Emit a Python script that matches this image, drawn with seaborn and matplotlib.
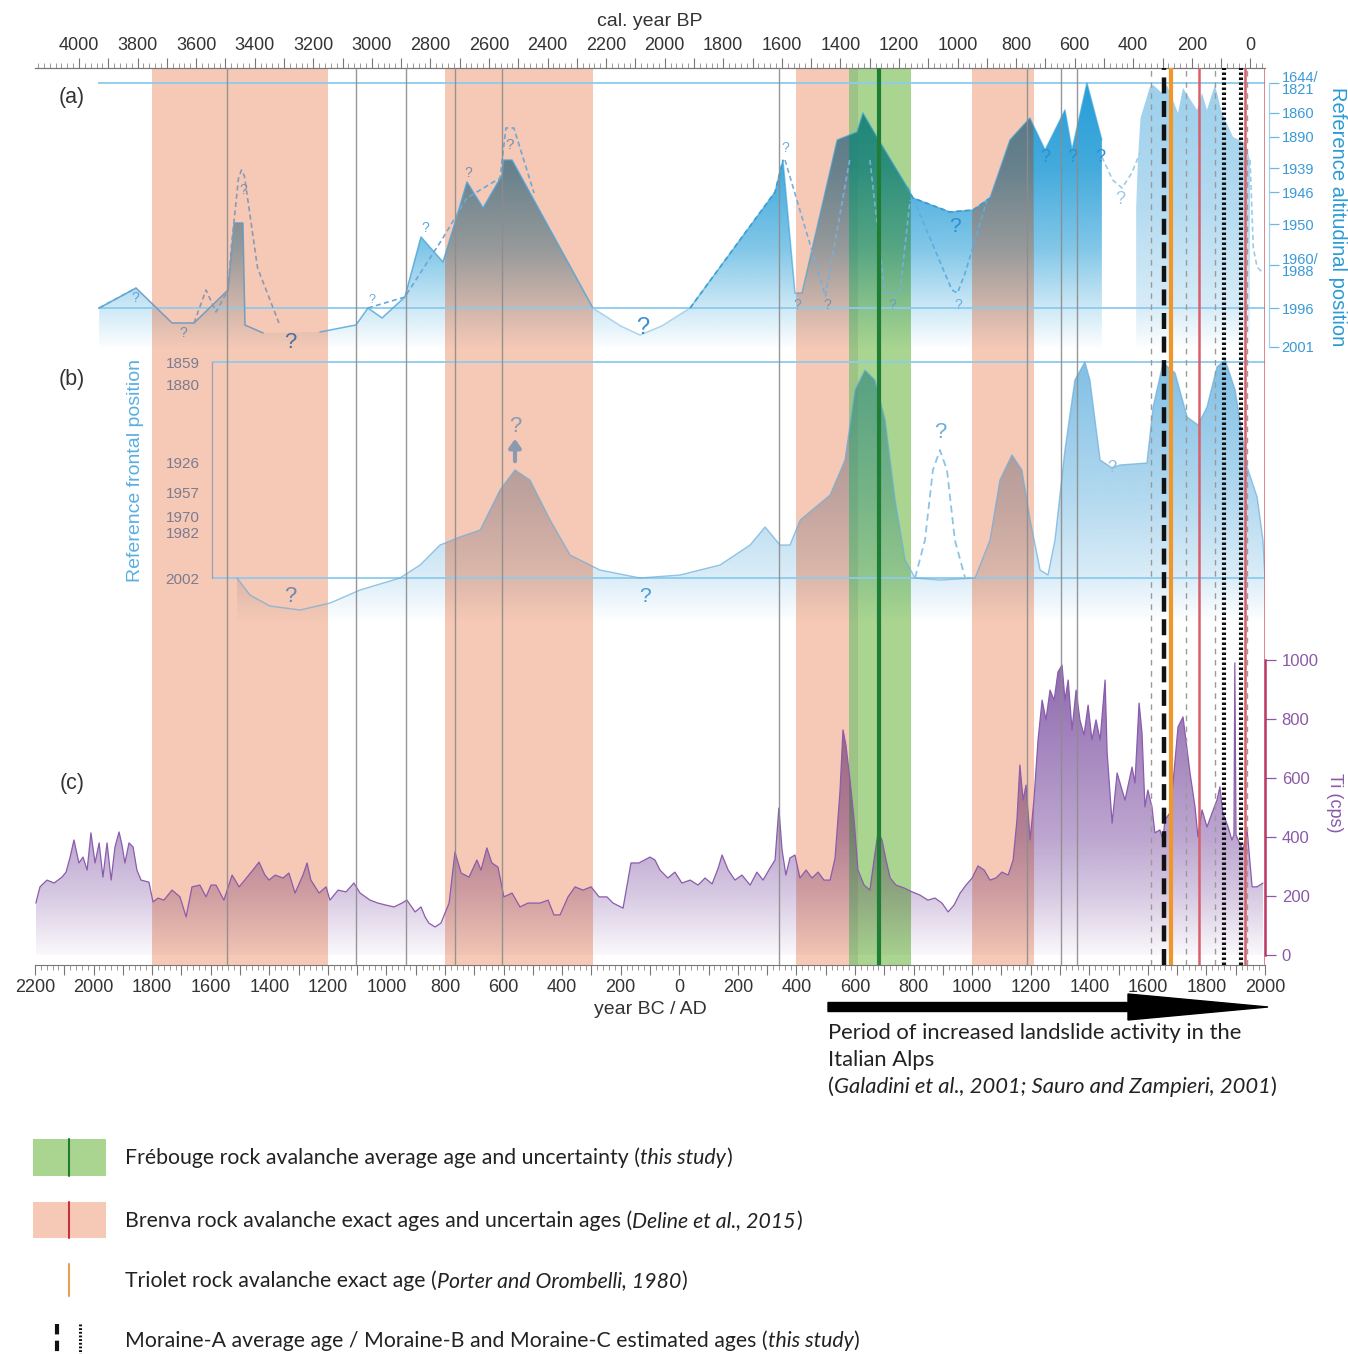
import numpy as np
import matplotlib
matplotlib.use("Agg")
import matplotlib.pyplot as plt
import seaborn as sns
from matplotlib.path import Path
from matplotlib.patches import PathPatch, Rectangle, FancyArrow
from matplotlib.colors import to_rgb

# ======================= DATA =======================
# periods / events (year BC/AD, negative = BC)
BRENVA_BANDS = [(-1800, -1200), (-800, -295), (400, 610), (1000, 1210)]
FREBOUGE_BAND = (580, 790)
FREBOUGE_AGE = 682
GRAY_LINES = [-1544, -1104, -933, -766, -605, 341, 1187, 1303, 1358]
GRAY_DASHED = [1611, 1730, 1829, 1939]
BRENVA_EXACT = [1775, 1932, 2000]
TRIOLET_AGE = 1679
MORAINE_A = 1655
MORAINE_BC = [1860, 1918]

# (a) reference altitudinal position (relative position units)
A_TICK_POS = [225, 195, 171, 140, 116, 84, 43, 0, -39]
A_TICK_LAB = ["1644/\n1821", "1860", "1890", "1939", "1946", "1950", "1960/\n1988", "1996", "2001"]
A_S1_YEAR = [-1981, -1855, -1732, -1657, -1541, -1520, -1490, -1483, -1421]
A_S1_POS = [0, 20, -15, -15, 18, 85, 85, -17, -25]
A_S2_YEAR = [-1227, -1104, -1063, -1015, -937, -882, -807, -766, -725, -670, -605, -599, -571, -295]
A_S2_POS = [-24, -17, 0, -10, 11, 71, 46, 85, 126, 100, 133, 148, 148, 0]
A_S3_YEAR = [-295, -200, -134, -60, 37]
A_S3_POS = [0, -18, -27, -18, 0]
A_S4_YEAR = [37, 327, 354, 395, 419, 539, 607, 627, 675, 778, 798, 924, 1003, 1061, 1129,
             1197, 1249, 1317, 1341, 1392, 1443]
A_S4_POS = [0, 116, 148, 15, 15, 168, 176, 195, 171, 121, 110, 96, 98, 110, 168,
            190, 158, 198, 158, 225, 168]
A_S5_YEAR = [1560, 1566, 1575, 1607, 1618, 1648, 1665, 1703, 1720, 1768, 1785, 1802, 1829,
             1853, 1891, 1932, 1949]
A_S5_POS = [100, 148, 190, 221, 223, 215, 223, 195, 220, 198, 215, 198, 223, 195, 171, 165, 148]
# dashed (uncertain) reconstructions
A_D1_YEAR, A_D1_POS = [-1981, -1855], [0, 20]
A_D2_YEAR, A_D2_POS = [-1657, -1616, -1582, -1541], [-15, 18, -4, 18]
A_D3_YEAR, A_D3_POS = [-1541, -1530, -1505, -1495, -1485, -1440, -1367], [18, 60, 130, 138, 132, 40, -15]
A_D4_YEAR, A_D4_POS = [-1063, -937, -807, -725, -612, -592, -565, -496], [0, 11, 70, 110, 130, 180, 180, 115]
A_D5_YEAR, A_D5_POS = [37, 327, 354], [0, 116, 148]
A_D6_YEAR, A_D6_POS = [361, 499, 583], [148, 12, 150]
A_D7_YEAR, A_D7_POS = [651, 702, 753, 788], [148, 15, 15, 108]
A_D8_YEAR, A_D8_POS = [798, 931, 950, 976, 1051], [110, 18, 15, 35, 108]
A_D9_YEAR, A_D9_POS = [778, 798, 924, 1003, 1061], [121, 110, 96, 98, 110]
A_D10_YEAR, A_D10_POS = [1443, 1480, 1512, 1545, 1573], [151, 128, 120, 135, 155]
A_D11_YEAR, A_D11_POS = [1949, 1960, 1973, 1993], [148, 60, 41, 35]

# (b) reference frontal position
B_TICK_POS = [216, 194, 115, 86, 61, 46, 0]
B_TICK_LAB = ["1859", "1880", "1926", "1957", "1970", "1982", "2002"]
B_YEAR = [-1510, -1466, -1398, -1295, -1192, -1090, -954, -885, -817, -749, -680, -612, -561,
          -510, -441, -373, -271, -134, 3, 139, 242, 293, 344, 378, 413, 515, 566, 600, 634,
          668, 703, 737, 771, 805, 890, 1010, 1061, 1095, 1136, 1170, 1198, 1232, 1259, 1283,
          1317, 1351, 1385, 1402, 1437, 1478, 1505, 1597, 1618, 1652, 1693, 1734, 1771, 1802,
          1836, 1864, 1898, 1939, 1973, 1993, 2000]
B_POS = [0, -17, -28, -32, -25, -12, 0, 13, 33, 41, 48, 88, 108, 98, 58, 23, 8, 0, 3, 13, 33,
         51, 33, 33, 58, 83, 118, 188, 208, 198, 158, 78, 18, 0, -2, 0, 38, 98, 123, 108, 58,
         8, 3, 38, 128, 198, 216, 198, 118, 110, 113, 115, 171, 215, 205, 161, 153, 171, 211,
         218, 188, 111, 81, 38, 0]
B_DASH_YEAR = [805, 839, 866, 890, 914, 941, 976]
B_DASH_POS = [0, 38, 108, 128, 108, 38, 0]

# (c) Ti (cps)
C_YEAR = [-2197, -2183, -2159, -2135, -2108, -2094, -2080, -2067, -2050, -2036,
          -2022, -2009, -1995, -1981, -1968, -1954, -1940, -1927, -1913, -1903,
          -1893, -1879, -1865, -1852, -1838, -1811, -1797, -1780, -1760, -1732,
          -1705, -1684, -1664, -1637, -1616, -1599, -1582, -1555, -1527, -1503,
          -1476, -1456, -1435, -1415, -1401, -1380, -1353, -1333, -1312, -1285,
          -1271, -1258, -1230, -1206, -1193, -1165, -1138, -1111, -1090, -1056,
          -1029, -1001, -974, -947, -930, -902, -882, -868, -855, -834,
          -814, -800, -786, -766, -745, -718, -691, -677, -657, -640,
          -619, -599, -571, -544, -517, -476, -448, -428, -407, -380,
          -356, -329, -301, -274, -247, -226, -192, -165, -138, -100,
          -83, -66, -39, -15, 9, 37, 64, 88, 112, 133,
          146, 167, 190, 214, 242, 265, 286, 310, 327, 340,
          351, 364, 378, 395, 412, 433, 453, 474, 494, 515,
          532, 549, 559, 569, 583, 597, 610, 631, 651, 665,
          679, 692, 706, 720, 740, 768, 795, 822, 849, 873,
          897, 918, 938, 959, 979, 1000, 1020, 1041, 1061, 1081,
          1102, 1123, 1140, 1153, 1163, 1174, 1184, 1198, 1211, 1225,
          1239, 1252, 1266, 1280, 1293, 1307, 1317, 1328, 1341, 1355,
          1368, 1382, 1396, 1409, 1423, 1437, 1454, 1461, 1478, 1495,
          1505, 1522, 1546, 1556, 1570, 1580, 1590, 1600, 1614, 1624,
          1641, 1652, 1658, 1675, 1686, 1703, 1720, 1734, 1744, 1761,
          1771, 1785, 1802, 1819, 1836, 1846, 1856, 1874, 1887, 1894,
          1897, 1901, 1908, 1925, 1939, 1956, 1973, 1993]
C_TI = [176, 231, 254, 244, 264, 281, 332, 390, 312, 332,
        288, 414, 312, 380, 264, 380, 254, 366, 417, 373,
        312, 380, 366, 288, 254, 247, 180, 193, 186, 220,
        197, 129, 231, 237, 197, 237, 237, 186, 271, 231,
        264, 288, 315, 271, 254, 271, 261, 278, 210, 271,
        312, 254, 210, 231, 186, 220, 214, 244, 210, 186,
        176, 169, 163, 176, 186, 146, 163, 129, 108, 95,
        108, 142, 176, 349, 278, 264, 322, 288, 363, 312,
        298, 197, 210, 163, 176, 176, 186, 136, 136, 197,
        231, 220, 231, 197, 197, 176, 159, 312, 312, 332,
        322, 288, 261, 281, 244, 254, 237, 261, 241, 295,
        339, 288, 254, 271, 237, 281, 254, 295, 322, 498,
        356, 271, 329, 339, 261, 288, 261, 281, 254, 254,
        329, 559, 763, 712, 593, 458, 288, 237, 220, 322,
        417, 390, 322, 261, 237, 227, 214, 203, 186, 193,
        176, 146, 169, 210, 237, 261, 302, 288, 254, 261,
        281, 271, 322, 458, 644, 525, 576, 390, 525, 729,
        864, 797, 898, 864, 959, 983, 864, 932, 763, 898,
        797, 746, 847, 729, 797, 729, 932, 685, 447, 617,
        583, 525, 637, 583, 854, 753, 502, 559, 502, 414,
        424, 390, 458, 481, 583, 773, 807, 695, 617, 502,
        400, 492, 434, 481, 525, 570, 481, 434, 390, 407,
        990, 407, 390, 356, 424, 231, 231, 244]
C_TICKS = [0, 200, 400, 600, 800, 1000]

BOTTOM_TICKS = list(range(-2200, 2001, 200))
TOP_TICKS = list(range(0, 4001, 200))

# ======================= STYLE =======================
sns.set_style("white")
plt.rcParams["font.family"] = ["Liberation Sans", "DejaVu Sans"]
TXT_FONT = ["Lato", "DejaVu Sans"]

SALMON = "#f6c9b6"
GREEN = "#a9d590"
OVERLAP = "#9dc386"
BLUE_A = "#1a98d5"
BLUE_B = "#4aa4da"
PURPLE = "#7a4ca0"
LINE_BLUE = "#8ccbee"

W, H = 1348, 1354
fig = plt.figure(figsize=(W / 100, H / 100), dpi=100)
PX0, PX1, PY0, PY1 = 35, 1265, 68, 965


def box(x0, y0, x1, y1):
    return [x0 / W, 1 - y1 / H, (x1 - x0) / W, (y1 - y0) / H]


XLIM = (-2200, 2000)
ax_bg = fig.add_axes(box(PX0, PY0, PX1, PY1), label="bg", zorder=0)
ax_a = fig.add_axes(box(PX0, PY0, PX1, PY1), label="a", zorder=1)
ax_b = fig.add_axes(box(PX0, PY0, PX1, PY1), label="b", zorder=2)
ax_c = fig.add_axes(box(PX0, PY0, PX1, PY1), label="c", zorder=3)
ax_ln = fig.add_axes(box(PX0, PY0, PX1, PY1), label="lines", zorder=4)
ax_ov = fig.add_axes([0, 0, 1, 1], label="overlay", zorder=5)
for ax in (ax_a, ax_b, ax_c, ax_ln, ax_ov):
    ax.patch.set_alpha(0)


def backdrop(xs):
    rgb = np.ones((len(xs), 3))
    salmon = np.zeros(len(xs), bool)
    for s, e in BRENVA_BANDS:
        m = (xs >= s) & (xs <= e)
        rgb[m] = to_rgb(SALMON)
        salmon |= m
    m = (xs >= FREBOUGE_BAND[0]) & (xs <= FREBOUGE_BAND[1])
    rgb[m] = to_rgb(GREEN)
    salmon &= ~m
    return rgb, salmon


def grad_fill(ax, xs, ys, base, color, ystops, astops, z, ncol=2400, nrow=300, band_col=None):
    xs = np.asarray(xs, float)
    ys = np.asarray(ys, float)
    verts = np.column_stack([np.r_[xs[0], xs, xs[-1]], np.r_[base, ys, base]])
    patch = PathPatch(Path(verts), fc="none", ec="none")
    ax.add_patch(patch)
    xg = np.linspace(xs.min(), xs.max(), ncol)
    y_hi = max(ys.max(), ystops[-1])
    yg = np.linspace(base, y_hi, nrow)
    alpha = np.interp(yg, ystops, astops)
    bd, salmon = backdrop(xg)
    col = np.array(to_rgb(color))[None, :] * bd
    if band_col is not None:
        col[salmon] = np.array(to_rgb(band_col))[None, :] * bd[salmon]
    img = np.empty((nrow, ncol, 4))
    img[..., :3] = col[None, :, :]
    img[..., 3] = alpha[:, None]
    im = ax.imshow(img, extent=[xg[0], xg[-1], base, y_hi], origin="lower",
                   aspect="auto", interpolation="bilinear", zorder=z)
    im.set_clip_path(patch)


# ----------------- background: bands & rulers -----------------
for s, e in BRENVA_BANDS:
    ax_bg.axvspan(s, e, color=SALMON, lw=0, zorder=0)
ax_bg.axvspan(*FREBOUGE_BAND, color=GREEN, lw=0, zorder=0.5)
for s, e in BRENVA_BANDS:
    lo, hi = max(s, FREBOUGE_BAND[0]), min(e, FREBOUGE_BAND[1])
    if lo < hi:
        ax_bg.axvspan(lo, hi, color=OVERLAP, lw=0, zorder=0.6)
ax_bg.set_xlim(*XLIM)
ax_bg.set_ylim(0, 1)
ax_bg.set_yticks([])
for sp in ("left", "right"):
    ax_bg.spines[sp].set_visible(False)
for sp in ("top", "bottom"):
    ax_bg.spines[sp].set_color("#777777")
    ax_bg.spines[sp].set_linewidth(0.8)
ax_bg.set_xticks(range(-2200, 2001, 100))
ax_bg.set_xticklabels([str(abs(v)) if v in BOTTOM_TICKS else "" for v in range(-2200, 2001, 100)])
ax_bg.set_xticks(range(-2200, 2001, 20), minor=True)
ax_bg.tick_params(axis="x", which="major", direction="out", length=7, width=0.8,
                  color="#777777", labelsize=13, labelcolor="#333333", pad=3)
ax_bg.tick_params(axis="x", which="minor", direction="out", length=3.5, width=0.6, color="#888888")
ax_bg.set_xlabel("year BC / AD", fontsize=14, color="#333333", labelpad=4)

ax_top = ax_bg.twiny()
ax_top.set_xlim(1950 - XLIM[0], 1950 - XLIM[1])
ax_top.set_xticks(range(0, 4001, 100))
ax_top.set_xticklabels([str(v) if v in TOP_TICKS else "" for v in range(0, 4001, 100)])
ax_top.set_xticks(range(-40, 4141, 20), minor=True)
ax_top.tick_params(axis="x", which="major", direction="out", length=7, width=0.8,
                   color="#777777", labelsize=13, labelcolor="#333333", pad=3)
ax_top.tick_params(axis="x", which="minor", direction="out", length=3.5, width=0.6, color="#888888")
ax_top.set_xlabel("cal. year BP", fontsize=14, color="#333333", labelpad=8)
for sp in ("left", "right", "bottom"):
    ax_top.spines[sp].set_visible(False)
ax_top.spines["top"].set_color("#777777")
ax_top.spines["top"].set_linewidth(0.8)

# ----------------- panel (a) -----------------
fill_a_year = A_S1_YEAR + A_S2_YEAR + A_S3_YEAR[1:] + A_S4_YEAR[1:]
fill_a_pos = A_S1_POS + A_S2_POS + A_S3_POS[1:] + A_S4_POS[1:]
grad_fill(ax_a, fill_a_year, fill_a_pos, -42, BLUE_A,
          [-42, 0, 60, 140, 225], [0.0, 0.22, 0.55, 0.82, 0.95], 1, band_col="#4a90b8")
grad_fill(ax_a, A_S5_YEAR, A_S5_POS, -42, "#3aa0da",
          [-42, 0, 100, 225], [0.0, 0.2, 0.38, 0.5], 1)
ax_a.hlines([225, 0], -1985, 2000, color=LINE_BLUE, lw=1.3, zorder=2)
for yrs, pos, col, alp in [(A_S1_YEAR, A_S1_POS, "#6a98c0", 0.9), (A_S2_YEAR, A_S2_POS, "#4aa4da", 0.8),
                           (A_S3_YEAR, A_S3_POS, "#9ccbe8", 0.8), (A_S4_YEAR, A_S4_POS, "#3aa0d8", 0.6)]:
    sns.lineplot(x=np.array(yrs), y=np.array(pos), ax=ax_a, color=col, lw=1.1, alpha=alp,
                 sort=False, estimator=None, zorder=3)
for yrs, pos, col in [(A_D1_YEAR, A_D1_POS, "#5aaee0"), (A_D2_YEAR, A_D2_POS, "#8a9ab5"),
                      (A_D3_YEAR, A_D3_POS, "#8a9ab5"), (A_D4_YEAR, A_D4_POS, "#6aa8d8"),
                      (A_D5_YEAR, A_D5_POS, "#3aa0d8"), (A_D6_YEAR, A_D6_POS, "#7aaed8"),
                      (A_D7_YEAR, A_D7_POS, "#7aaed8"), (A_D8_YEAR, A_D8_POS, "#5aaee0"),
                      (A_D9_YEAR, A_D9_POS, "#3a9ad6"), (A_D10_YEAR, A_D10_POS, "#9ccbe8"),
                      (A_D11_YEAR, A_D11_POS, "#9ccbe8")]:
    ax_a.plot(yrs, pos, color=col, lw=1.2, ls=(0, (3, 2)), zorder=3)
A_Q = [(-1858, 10, 10, "#6a9ed0"), (-1695, -25, 10, "#7090b0"), (-1490, 118, 10, "#8090a8"),
       (-1329, -34, 16, "#4a6fa0"), (-1049, 8, 9, "#6aaee0"), (-868, 80, 10, "#5aa8dc"),
       (-721, 135, 10, "#7a8fa8"), (-578, 163, 11, "#7a8fa8"), (-124, -20, 17, "#3a8fd0"),
       (361, 160, 10, "#6ab0e0"), (402, 3, 10, "#6a9ec8"), (505, 3, 10, "#8090a8"),
       (726, 3, 10, "#6a9ec8"), (952, 3, 10, "#6aaee0"), (942, 82, 15, "#2a8fd0"),
       (1249, 150, 13, "#2a8fd0"), (1341, 150, 13, "#2a8fd0"), (1437, 150, 13, "#2a8fd0"),
       (1505, 108, 13, "#9ac8e8")]
for yr, p, sz, col in A_Q:
    ax_a.text(yr, p, "?", fontsize=sz, color=col, ha="center", va="center", zorder=4)
ax_a.set_xlim(*XLIM)
ax_a.set_ylim(-657, 240)
for sp in ("left", "top", "bottom"):
    ax_a.spines[sp].set_visible(False)
ax_a.spines["right"].set_position(("outward", 3))
ax_a.spines["right"].set_bounds(-39, 225)
ax_a.spines["right"].set_color("#9fd3f0")
ax_a.spines["right"].set_linewidth(0.9)
ax_a.yaxis.tick_right()
ax_a.set_yticks(A_TICK_POS)
ax_a.set_yticklabels(A_TICK_LAB)
for lbl in ax_a.get_yticklabels():
    lbl.set_linespacing(0.85)
ax_a.tick_params(axis="y", direction="out", length=7, width=0.9, color="#6ab8e6",
                 labelcolor="#3a9ad6", labelsize=10.5, pad=2)
ax_a.tick_params(axis="x", bottom=False, labelbottom=False)
ax_a.set_xlabel("")
ax_a.set_ylabel("")

# ----------------- panel (b) -----------------
grad_fill(ax_b, B_YEAR, B_POS, -45, BLUE_B, [-45, 0, 80, 216], [0.0, 0.2, 0.42, 0.7], 1,
          band_col="#7a8eb0")
ax_b.hlines([216, 0], -1596, 2000, color=LINE_BLUE, lw=1.3, zorder=2)
sns.lineplot(x=np.array(B_YEAR), y=np.array(B_POS), ax=ax_b, color="#6aaedc", lw=1.0,
             alpha=0.7, sort=False, estimator=None, zorder=3)
ax_b.plot(B_DASH_YEAR, B_DASH_POS, color="#8cc4e8", lw=1.3, ls=(0, (4, 2.5)), zorder=3)
ax_b.annotate("", xy=(-561, 142), xytext=(-561, 114),
              arrowprops=dict(arrowstyle="-|>,head_width=0.35,head_length=0.5", lw=3,
                              color="#8a9ab0"), zorder=4)
B_Q = [(-1329, -19, 16, "#6a8ab0"), (-117, -19, 15, "#4a9ad6"), (890, 146, 16, "#6aaee0"),
       (1478, 111, 12, "#8abce0"), (-561, 151, 16, "#8a9ab0")]
for yr, p, sz, col in B_Q:
    ax_b.text(yr, p, "?", fontsize=sz, color=col, ha="center", va="center", zorder=4)
ax_b.set_xlim(*XLIM)
ax_b.set_ylim(-387, 510)
for sp in ("right", "top", "bottom"):
    ax_b.spines[sp].set_visible(False)
ax_b.spines["left"].set_position(("data", -1596))
ax_b.spines["left"].set_bounds(0, 216)
ax_b.spines["left"].set_color("#a0a0b0")
ax_b.spines["left"].set_linewidth(0.9)
ax_b.set_yticks(B_TICK_POS)
ax_b.set_yticklabels(B_TICK_LAB)
ax_b.tick_params(axis="y", direction="out", length=7, width=0.9, color="#a0a0b0",
                 labelcolor="#7b7b90", labelsize=11, pad=2)
ax_b.tick_params(axis="x", bottom=False, labelbottom=False)
ax_b.set_xlabel("")
ax_b.set_ylabel("")

# ----------------- panel (c) -----------------
grad_fill(ax_c, C_YEAR, C_TI, 0, PURPLE, [0, 200, 400, 1000], [0.04, 0.3, 0.5, 0.85], 1)
sns.lineplot(x=np.array(C_YEAR), y=np.array(C_TI), ax=ax_c, color="#8a5cac", lw=0.9,
             sort=False, estimator=None, zorder=3)
ax_c.set_xlim(*XLIM)
ax_c.set_ylim(-33.9, 3006.8)
for sp in ("left", "top", "bottom"):
    ax_c.spines[sp].set_visible(False)
ax_c.spines["right"].set_bounds(0, 1000)
ax_c.spines["right"].set_color("#b23a6e")
ax_c.spines["right"].set_linewidth(1.8)
ax_c.yaxis.tick_right()
ax_c.set_yticks(C_TICKS)
ax_c.tick_params(axis="y", direction="out", length=8, width=0.9, color="#8a5aa8",
                 labelcolor="#8a5aa8", labelsize=12, pad=4)
ax_c.tick_params(axis="x", bottom=False, labelbottom=False)
ax_c.set_xlabel("")
ax_c.set_ylabel("")

# ----------------- vertical event lines -----------------
ax_ln.set_xlim(*XLIM)
ax_ln.set_ylim(0, 1)
ax_ln.axis("off")
for yr in GRAY_LINES:
    ax_ln.axvline(yr, color="#8c8c8c", lw=1.0, alpha=0.9)
for yr in GRAY_DASHED:
    ax_ln.axvline(yr, color="#9a9a9a", lw=1.0, ls=(0, (4, 4)))
ax_ln.axvline(FREBOUGE_AGE, color="#1f7d35", lw=3)
for yr in BRENVA_EXACT:
    ax_ln.axvline(yr, color="#d8606a", lw=1.8)
ax_ln.axvline(TRIOLET_AGE, color="#f0962a", lw=3)
ax_ln.axvline(MORAINE_A, color="#111111", lw=3.2, ls=(0, (3.6, 1.7)))
for yr in MORAINE_BC:
    ax_ln.axvline(yr, color="#111111", lw=3, ls=(0, (0.6, 0.6)))

# ----------------- overlay (labels, arrow, legend) -----------------
ax_ov.set_xlim(0, W)
ax_ov.set_ylim(H, 0)
ax_ov.axis("off")
for lab, y in (("(a)", 97), ("(b)", 380), ("(c)", 783)):
    ax_ov.text(72, y, lab, fontsize=15.5, color="#333333", ha="center", va="center")
ax_ov.text(1337, 217, "Reference altitudinal position", rotation=270, fontsize=14.5,
           color="#2a9ad6", ha="center", va="center")
ax_ov.text(136, 470, "Reference frontal position", rotation=90, fontsize=14,
           color="#5aaee0", ha="center", va="center")
ax_ov.text(1335, 803, "Ti (cps)", rotation=270, fontsize=13, color="#8a5aa8",
           ha="center", va="center")

ax_ov.add_patch(FancyArrow(828, 1007, 440, 0, width=9, head_width=26, head_length=140,
                           length_includes_head=True, color="black"))

renderer = fig.canvas.get_renderer()


def rich(x, y, parts, size=15.3):
    for txt, style in parts:
        t = ax_ov.text(x, y, txt, fontsize=size, family=TXT_FONT, style=style,
                       color="#222222", ha="left", va="center")
        bb = t.get_window_extent(renderer=renderer)
        x = bb.x1


rich(828, 1033, [("Period of increased landslide activity in the", "normal")], 15.8)
rich(828, 1060, [("Italian Alps", "normal")], 15.8)
rich(828, 1087, [("(", "normal"), ("Galadini et al., 2001; Sauro and Zampieri, 2001", "italic"),
                 (")", "normal")], 15.8)

ax_ov.add_patch(Rectangle((33, 1139), 73, 37, color=GREEN, lw=0))
ax_ov.plot([69, 69], [1139, 1176], color="#1f7d35", lw=1.5)
ax_ov.add_patch(Rectangle((33, 1202), 73, 36, color=SALMON, lw=0))
ax_ov.plot([69, 69], [1202, 1238], color="#c8323c", lw=1.5)
ax_ov.plot([69, 69], [1264, 1296], color="#e8a050", lw=1.5)
ax_ov.plot([57, 57], [1324, 1354], color="#111111", lw=3, ls=(0, (2.5, 1.5)))
ax_ov.plot([80, 80], [1324, 1354], color="#111111", lw=2.2, ls=(0, (0.6, 0.6)))

rich(125, 1158, [("Frébouge rock avalanche average age and uncertainty (", "normal"),
                 ("this study", "italic"), (")", "normal")])
rich(125, 1221, [("Brenva rock avalanche exact ages and uncertain ages (", "normal"),
                 ("Deline et al., 2015", "italic"), (")", "normal")])
rich(125, 1281, [("Triolet rock avalanche exact age (", "normal"),
                 ("Porter and Orombelli, 1980", "italic"), (")", "normal")])
rich(125, 1341, [("Moraine-A average age / Moraine-B and Moraine-C estimated ages (", "normal"),
                 ("this study", "italic"), (")", "normal")])

fig.savefig("out.png", dpi=100)
